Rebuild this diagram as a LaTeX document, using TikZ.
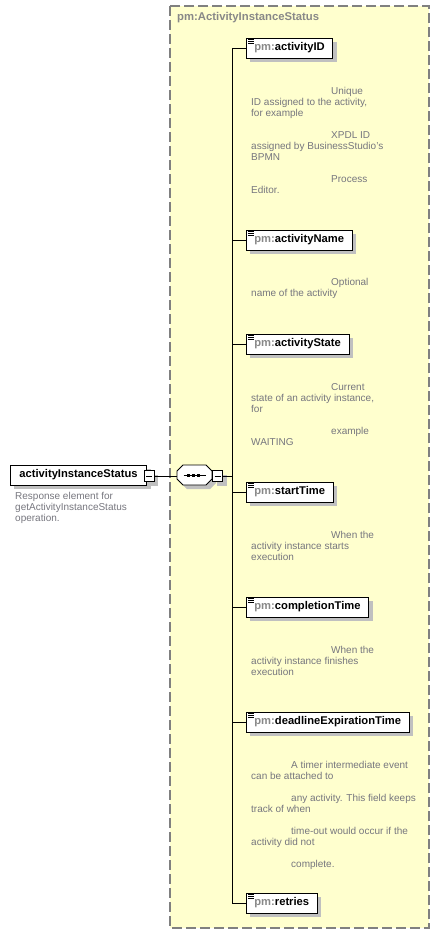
\documentclass[tikz,border=0pt]{standalone}
\usepackage{fontspec}
\setmainfont{Liberation Sans}
\usetikzlibrary{shadows,calc}
\definecolor{bgyellow}{RGB}{255,255,206}
\definecolor{borderg}{RGB}{128,128,128}
\definecolor{shadowg}{RGB}{192,192,192}
\definecolor{descg}{RGB}{118,118,126}
\definecolor{pmg}{RGB}{136,136,136}
\newcommand{\pmpre}{{\color{pmg}pm:}}
\begin{document}
\begin{tikzpicture}[x=1pt,y=-1pt,
  shade/.style={drop shadow={shadow xshift=4pt,shadow yshift=-4pt,fill=shadowg,opacity=1}},
  elem/.style={draw=black,fill=white,line width=0.8pt,anchor=west,minimum height=20pt,
    inner xsep=8pt,inner ysep=0pt,font=\fontsize{11.2}{12}\selectfont\bfseries,shade},
  minusbox/.style={draw=black,fill=white,line width=0.8pt,minimum width=10pt,minimum height=11pt,
    inner sep=0pt,shade},
  desc/.style={anchor=mid west,inner sep=0pt,text=descg,font=\fontsize{10}{11}\selectfont},
  conn/.style={draw=black,line width=0.8pt}]
\useasboundingbox (0,0) rectangle (440,934);
% container
\path[fill=bgyellow,draw=borderg,line width=1.3pt,dash pattern=on 10pt off 4pt] (170,6) rectangle (429,928);
\node[anchor=mid west,inner sep=0pt,text=pmg,font=\fontsize{11.3}{12}\selectfont\bfseries] (title) at (177,18) {pm:ActivityInstanceStatus};
% spine coordinates
\coordinate (s1) at (232,48);
\coordinate (s2) at (232,240);
\coordinate (s3) at (232,344);
\coordinate (s4) at (232,492);
\coordinate (s5) at (232,607);
\coordinate (s6) at (232,722);
\coordinate (s7) at (232,903);
\coordinate (sm) at (232,476);
\draw[conn] (s1) -- (s7);
% main element
\node[elem,inner xsep=9pt] (main) at (10,475) {activityInstanceStatus};
\node[minusbox] (m1) at (149,476) {};
\draw[conn] ($(m1.center)+(-3,0)$) -- ($(m1.center)+(3,0)$);
% sequence compositor
\node[minimum width=35pt,minimum height=20pt,inner sep=0pt] (seq) at (194.5,475) {};
\fill[shadowg,shift={(seq.center)}] (-13.5,-6) -- (-7.5,-6) -- (15.5,-6) -- (21.5,0) -- (21.5,8) -- (15.5,14) -- (-7.5,14) -- (-13.5,8) -- cycle;
\filldraw[fill=white,draw=black,line width=0.8pt,shift={(seq.center)}] (-17.5,-4) -- (-11.5,-10) -- (11.5,-10) -- (17.5,-4) -- (17.5,4) -- (11.5,10) -- (-11.5,10) -- (-17.5,4) -- cycle;
\draw[conn,shift={(seq.center)}] (-11,0.5) -- (11,0.5);
\foreach \dx in {-6,-1,4} \fill[black,shift={(seq.center)}] (\dx-1.5,-1) rectangle (\dx+1.5,2);
\node[minusbox] (m2) at (217.5,476) {};
\draw[conn] ($(m2.center)+(-3,0)$) -- ($(m2.center)+(3,0)$);
\draw[conn] (m1.east) -- (seq.west |- m1.east);
\draw[conn] (m2.east) -- (sm);
% children
\node[elem] (c1) at (246,48) {\pmpre activityID};
\node[elem] (c2) at (246,240) {\pmpre activityName};
\node[elem] (c3) at (246,344) {\pmpre activityState};
\node[elem] (c4) at (246,492) {\pmpre startTime};
\node[elem] (c5) at (246,607) {\pmpre completionTime};
\node[elem] (c6) at (246,722) {\pmpre deadlineExpirationTime};
\node[elem] (c7) at (246,903) {\pmpre retries};
\foreach \i in {1,...,7} {
  \draw[conn] (s\i) -- (c\i.west);
  \draw[black,line width=0.7pt,shift={(c\i.north west)}] (2,1.8) -- (8,1.8) (2,3.8) -- (8,3.8) (2,5.8) -- (8,5.8);
}
% descriptions
\node[desc] (dm1) at (15,497) {Response element for};
\node[desc] (dm2) at (15,508) {getActivityInstanceStatus};
\node[desc] (dm3) at (15,519) {operation.};
\node[desc] (d1a) at (331,92) {Unique};
\node[desc] (d1b) at (251,103) {ID assigned to the activity,};
\node[desc] (d1c) at (251,114) {for example};
\node[desc] (d1d) at (331,136) {XPDL ID};
\node[desc] (d1e) at (251,147) {assigned by BusinessStudio's};
\node[desc] (d1f) at (251,158) {BPMN};
\node[desc] (d1g) at (331,180) {Process};
\node[desc] (d1h) at (251,191) {Editor.};
\node[desc] (d2a) at (331,283) {Optional};
\node[desc] (d2b) at (251,294) {name of the activity};
\node[desc] (d3a) at (331,388) {Current};
\node[desc] (d3b) at (251,399) {state of an activity instance,};
\node[desc] (d3c) at (251,410) {for};
\node[desc] (d3d) at (331,432) {example};
\node[desc] (d3e) at (251,443) {WAITING};
\node[desc] (d4a) at (331,536) {When the};
\node[desc] (d4b) at (251,547) {activity instance starts};
\node[desc] (d4c) at (251,558) {execution};
\node[desc] (d5a) at (331,651) {When the};
\node[desc] (d5b) at (251,662) {activity instance finishes};
\node[desc] (d5c) at (251,673) {execution};
\node[desc] (d6a) at (291,766) {A timer intermediate event};
\node[desc] (d6b) at (251,777) {can be attached to};
\node[desc] (d6c) at (291,799) {any activity. This field keeps};
\node[desc] (d6d) at (251,810) {track of when};
\node[desc] (d6e) at (291,832) {time-out would occur if the};
\node[desc] (d6f) at (251,843) {activity did not};
\node[desc] (d6g) at (291,865) {complete.};
\end{tikzpicture}
\end{document}
